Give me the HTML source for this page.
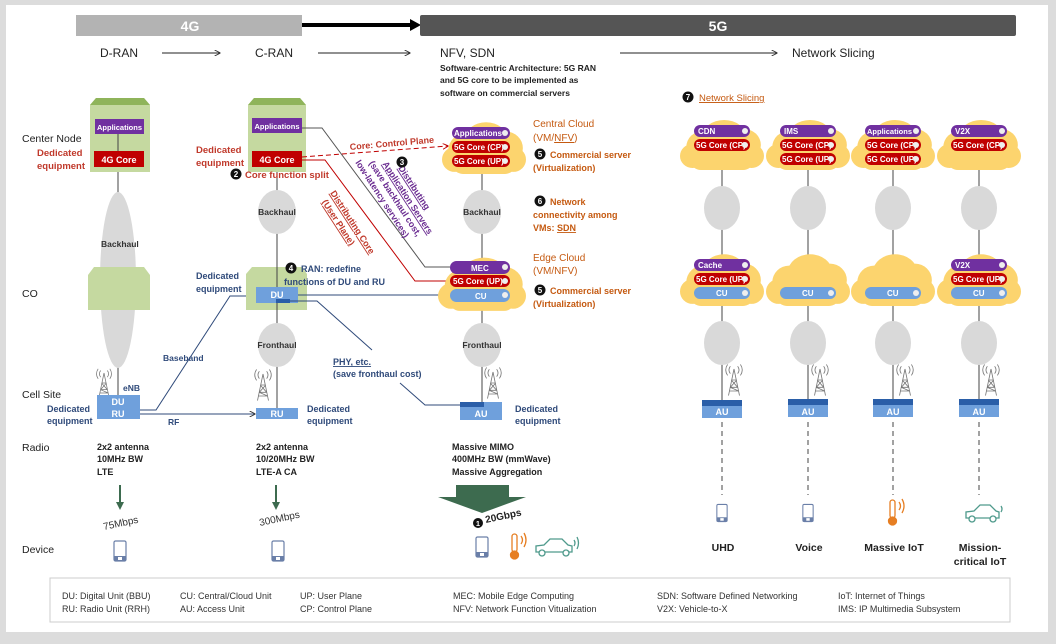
<!DOCTYPE html>
<html><head><meta charset="utf-8"><style>
html,body{margin:0;padding:0;background:#dcdcdc}
svg{display:block;font-family:"Liberation Sans",sans-serif}
</style></head><body>
<svg width="1056" height="644" viewBox="0 0 1056 644" xmlns="http://www.w3.org/2000/svg">
<defs>
<symbol id="cloud" viewBox="0 0 80 60" preserveAspectRatio="none">
<circle cx="22" cy="36" r="16" fill="#fcd46e"/><ellipse cx="42" cy="26" rx="21" ry="17" fill="#fcd46e"/><circle cx="61" cy="34" r="16" fill="#fcd46e"/>
<circle cx="12" cy="45" r="12" fill="#fcd46e"/><circle cx="68" cy="45" r="12" fill="#fcd46e"/><rect x="10" y="36" width="60" height="23" rx="10" fill="#fcd46e"/>
</symbol>
<symbol id="tower" viewBox="0 0 24 36">
<g fill="none" stroke="#777" stroke-width="0.9"><path d="M12 6 L6 35 M12 6 L18 35 M8 26 L16 26 M9 18 L15 18 M7 30 L17 30 M9 18 L16 26 M15 18 L8 26 M8 26 L17 30"/>
<path d="M8 3 Q5 7 8 11 M5 1 Q1 7 5 13 M16 3 Q19 7 16 11 M19 1 Q23 7 19 13"/></g>
</symbol>
<symbol id="phone" viewBox="0 0 14 22"><rect x="1" y="1" width="12" height="20" rx="1.5" fill="#fff" stroke="#6a7fa8" stroke-width="1.2"/><rect x="1" y="16" width="12" height="5" fill="#6a7fa8"/><rect x="5" y="17" width="4" height="3" fill="#fff"/></symbol>
<marker id="ah" viewBox="0 0 10 10" refX="9" refY="5" markerWidth="6" markerHeight="6" orient="auto"><path d="M0 0 L10 5 L0 10" fill="none" stroke="#333" stroke-width="1.5"/></marker>
<marker id="ahr" viewBox="0 0 10 10" refX="9" refY="5" markerWidth="6" markerHeight="6" orient="auto"><path d="M0 0 L10 5 L0 10" fill="none" stroke="#c00000" stroke-width="1.5"/></marker>
</defs>
<rect x="6" y="5" width="1042" height="627" fill="#fff"/>

<rect x="76" y="15" width="226" height="21" fill="#b3b3b3"/>
<text x="190" y="31" font-size="14" font-weight="bold" fill="#fff" text-anchor="middle">4G</text>
<line x1="302" y1="25" x2="412" y2="25" stroke="#000" stroke-width="4"/>
<path d="M410 19 L421 25 L410 31 Z" fill="#000"/>
<rect x="420" y="15" width="596" height="21" rx="2" fill="#555"/>
<text x="718" y="31" font-size="14" font-weight="bold" fill="#fff" text-anchor="middle">5G</text>
<g font-size="12" fill="#222">
<text x="100" y="57">D-RAN</text><text x="255" y="57">C-RAN</text><text x="440" y="57">NFV, SDN</text><text x="792" y="57">Network Slicing</text></g>
<g stroke="#222" stroke-width="1" marker-end="url(#ah)"><line x1="162" y1="53" x2="220" y2="53"/><line x1="318" y1="53" x2="410" y2="53"/><line x1="620" y1="53" x2="777" y2="53"/></g>
<g font-size="8.5" font-weight="bold" fill="#222"><text x="440" y="71">Software-centric Architecture: 5G RAN</text><text x="440" y="83">and 5G core to be implemented as</text><text x="440" y="96">software on commercial servers</text></g>

<g font-size="10.5" fill="#222"><text x="22" y="142">Center Node</text><text x="22" y="297">CO</text><text x="22" y="398">Cell Site</text><text x="22" y="451">Radio</text><text x="22" y="553">Device</text></g>

<line x1="118" y1="125" x2="118" y2="395" stroke="#444"/>
<ellipse cx="118" cy="280" rx="18" ry="88" fill="#d9d9d9"/>
<text x="101" y="247" font-size="8.5" font-weight="bold" fill="#333">Backhaul</text>
<path d="M90 105 L96 98 L144 98 L150 105 L150 172 L90 172 Z" fill="#c5d9a0"/><path d="M90 105 L96 98 L144 98 L150 105 Z" fill="#8fb45a"/>
<path d="M88 275 L94 267 L144 267 L150 275 L150 310 L88 310 Z" fill="#c5d9a0"/>
<rect x="95" y="119" width="49" height="15" fill="#7030a0"/><text x="119.5" y="130" font-size="7.5" font-weight="bold" fill="#fff" text-anchor="middle">Applications</text>
<line x1="118" y1="134" x2="118" y2="151" stroke="#444"/>
<rect x="94" y="151" width="50" height="16" fill="#c00000"/><text x="119" y="163" font-size="9" font-weight="bold" fill="#fff" text-anchor="middle">4G Core</text>
<g font-size="9.5" font-weight="bold" fill="#c0392b"><text x="37" y="156">Dedicated</text><text x="37" y="169">equipment</text></g>
<use href="#tower" x="93" y="368" width="22" height="30"/>
<rect x="97" y="395" width="43" height="24" fill="#6fa0dc"/>
<text x="118" y="405" font-size="9" font-weight="bold" fill="#fff" text-anchor="middle">DU</text><text x="118" y="417" font-size="9" font-weight="bold" fill="#fff" text-anchor="middle">RU</text>
<text x="123" y="391" font-size="8.5" font-weight="bold" fill="#2f4a7a">eNB</text>
<g font-size="9" font-weight="bold" fill="#2f4a7a"><text x="47" y="412">Dedicated</text><text x="47" y="424">equipment</text></g>
<g font-size="9" font-weight="bold" fill="#222"><text x="97" y="450">2x2 antenna</text><text x="97" y="462">10MHz BW</text><text x="97" y="475">LTE</text></g>
<line x1="120" y1="485" x2="120" y2="503" stroke="#3d6b4f" stroke-width="2"/><path d="M116 502 L120 510 L124 502 Z" fill="#3d6b4f"/>
<text x="104" y="530" font-size="10" fill="#333" transform="rotate(-12 104 530)">75Mbps</text>
<use href="#phone" x="113" y="540" width="14" height="22"/>

<g stroke="#2f4a7a" stroke-width="1" fill="none"><path d="M140 410 L156 410 L230 296 L255 296" marker-end="url(#ah)"/><path d="M140 414 L255 414" marker-end="url(#ah)"/></g>
<text x="163" y="361" font-size="8.5" font-weight="bold" fill="#2f4a7a">Baseband</text>
<text x="168" y="425" font-size="8.5" font-weight="bold" fill="#2f4a7a">RF</text>

<line x1="277" y1="125" x2="277" y2="408" stroke="#444"/>
<path d="M248 105 L254 98 L300 98 L306 105 L306 172 L248 172 Z" fill="#c5d9a0"/><path d="M248 105 L254 98 L300 98 L306 105 Z" fill="#8fb45a"/>
<rect x="252" y="118" width="50" height="15" fill="#7030a0"/><text x="277" y="129" font-size="7.5" font-weight="bold" fill="#fff" text-anchor="middle">Applications</text>
<rect x="252" y="151" width="50" height="16" fill="#c00000"/><text x="277" y="163" font-size="9" font-weight="bold" fill="#fff" text-anchor="middle">4G Core</text>
<g font-size="9.5" font-weight="bold" fill="#c0392b"><text x="196" y="153">Dedicated</text><text x="196" y="166">equipment</text></g>
<circle cx="236" cy="174" r="5.5" fill="#111"/><text x="236" y="177" font-size="8" font-weight="bold" fill="#fff" text-anchor="middle">2</text>
<text x="245" y="178" font-size="9.5" font-weight="bold" fill="#c0392b">Core function split</text>
<ellipse cx="277" cy="212" rx="19" ry="22" fill="#d9d9d9"/><text x="277" y="215" font-size="8.5" font-weight="bold" fill="#333" text-anchor="middle">Backhaul</text>
<path d="M246 274 L252 267 L302 267 L307 274 L307 310 L246 310 Z" fill="#c5d9a0"/>
<line x1="277" y1="250" x2="277" y2="330" stroke="#444"/>
<rect x="256" y="287" width="42" height="16" fill="#6fa0dc"/><rect x="276" y="299" width="14" height="4" fill="#2a5ea8"/>
<text x="277" y="298" font-size="9" font-weight="bold" fill="#fff" text-anchor="middle">DU</text>
<g font-size="9" font-weight="bold" fill="#2f4a7a"><text x="196" y="279">Dedicated</text><text x="196" y="292">equipment</text></g>
<circle cx="291" cy="268" r="5.5" fill="#111"/><text x="291" y="271" font-size="8" font-weight="bold" fill="#fff" text-anchor="middle">4</text>
<g font-size="9" font-weight="bold" fill="#2f4a7a"><text x="301" y="272">RAN: redefine</text><text x="284" y="285">functions of DU and  RU</text></g>
<ellipse cx="277" cy="345" rx="19" ry="22" fill="#d9d9d9"/><text x="277" y="348" font-size="8.5" font-weight="bold" fill="#333" text-anchor="middle">Fronthaul</text>
<use href="#tower" x="252" y="368" width="22" height="34"/>
<rect x="256" y="408" width="42" height="11" fill="#6fa0dc"/><text x="277" y="417" font-size="9" font-weight="bold" fill="#fff" text-anchor="middle">RU</text>
<g font-size="9" font-weight="bold" fill="#2f4a7a"><text x="307" y="412">Dedicated</text><text x="307" y="424">equipment</text></g>
<g font-size="9" font-weight="bold" fill="#222"><text x="256" y="450">2x2 antenna</text><text x="256" y="462">10/20MHz BW</text><text x="256" y="475">LTE-A CA</text></g>
<line x1="276" y1="485" x2="276" y2="503" stroke="#3d6b4f" stroke-width="2"/><path d="M272 502 L276 510 L280 502 Z" fill="#3d6b4f"/>
<text x="260" y="526" font-size="10" fill="#333" transform="rotate(-12 260 526)">300Mbps</text>
<use href="#phone" x="271" y="540" width="14" height="22"/>

<g fill="none" stroke-width="1">
<path d="M298 295 L450 295" stroke="#2f4a7a" marker-end="url(#ah)"/>
<path d="M290 301 L317 301 L372 350" stroke="#2f4a7a"/>
<path d="M400 383 L425 405 L460 405" stroke="#2f4a7a"/>
<path d="M302 128 L322 128 L425 267 L450 267" stroke="#555"/>
<path d="M302 160 L325 160 L415 281 L450 281" stroke="#c00000"/>
<path d="M302 157 L448 146" stroke="#c00000" stroke-dasharray="5,3" marker-end="url(#ahr)"/>
</g>
<text x="350" y="150" font-size="9" font-weight="bold" fill="#c0392b" transform="rotate(-5 350 150)">Core: Control Plane</text>
<g font-size="9" font-weight="bold" fill="#2f4a7a" text-decoration="underline"><text x="333" y="365">PHY, etc.</text></g>
<text x="333" y="377" font-size="9" font-weight="bold" fill="#2f4a7a">(save fronthaul cost)</text>
<g transform="rotate(57 330 193)" font-size="9" font-weight="bold" fill="#c0392b"><text x="330" y="193" text-decoration="underline">Distributing Core</text><text x="333" y="205" text-decoration="underline">(User Plane)</text></g>
<g transform="rotate(57 398 168)" font-size="9" font-weight="bold" fill="#6a2c91"><text x="398" y="168" text-decoration="underline">Distributing</text><text x="386" y="179" text-decoration="underline">Application Servers</text><text x="378" y="190">(save backhaul cost,</text><text x="370" y="201">low-latency services)</text></g>
<circle cx="402" cy="162" r="5.5" fill="#111"/><text x="402" y="165" font-size="8" font-weight="bold" fill="#fff" text-anchor="middle">3</text>

<line x1="482" y1="165" x2="482" y2="405" stroke="#444"/>
<use href="#cloud" x="442" y="113" width="84" height="62"/>
<use href="#cloud" x="438" y="248" width="88" height="64"/>
<g font-size="8" font-weight="bold" fill="#fff">
<rect x="452" y="127" width="58" height="12" rx="6" fill="#7030a0"/><text x="454" y="136">Applications</text><circle cx="505" cy="133" r="3" fill="#eee"/>
<rect x="452" y="141" width="58" height="12" rx="6" fill="#c00000"/><text x="454" y="150">5G Core (CP)</text><circle cx="505" cy="147" r="3" fill="#eee"/>
<rect x="452" y="155" width="58" height="12" rx="6" fill="#c00000"/><text x="454" y="164">5G Core (UP)</text><circle cx="505" cy="161" r="3" fill="#eee"/>
<rect x="450" y="261" width="60" height="13" rx="6.5" fill="#7030a0"/><text x="471" y="271">MEC</text><circle cx="505" cy="267" r="3" fill="#eee"/>
<rect x="450" y="275" width="60" height="12" rx="6" fill="#c00000"/><text x="453" y="284">5G Core (UP)</text><circle cx="505" cy="281" r="3" fill="#eee"/>
<rect x="450" y="289" width="60" height="13" rx="6.5" fill="#6fa0dc"/><text x="475" y="299">CU</text><circle cx="505" cy="295" r="3" fill="#eee"/>
</g>
<ellipse cx="482" cy="212" rx="19" ry="22" fill="#d9d9d9"/><text x="482" y="215" font-size="8.5" font-weight="bold" fill="#333" text-anchor="middle">Backhaul</text>
<ellipse cx="482" cy="345" rx="19" ry="22" fill="#d9d9d9"/><text x="482" y="348" font-size="8.5" font-weight="bold" fill="#333" text-anchor="middle">Fronthaul</text>
<use href="#tower" x="482" y="365" width="22" height="36"/>
<rect x="460" y="402" width="42" height="18" fill="#6fa0dc"/><rect x="460" y="402" width="24" height="5" fill="#2a5ea8"/>
<text x="481" y="417" font-size="9" font-weight="bold" fill="#fff" text-anchor="middle">AU</text>
<g font-size="9" font-weight="bold" fill="#2f4a7a"><text x="515" y="412">Dedicated</text><text x="515" y="424">equipment</text></g>
<g font-size="10" fill="#c55a11"><text x="533" y="127">Central Cloud</text><text x="533" y="141">(VM/<tspan text-decoration="underline">NFV</tspan>)</text></g>
<g font-size="9" font-weight="bold" fill="#c55a11">
<circle cx="540" cy="154" r="5.5" fill="#111"/><text x="550" y="158">Commercial server</text><text x="533" y="171">(Virtualization)</text>
<circle cx="540" cy="201" r="5.5" fill="#111"/><text x="550" y="205">Network</text><text x="533" y="218">connectivity among</text><text x="533" y="231">VMs: <tspan text-decoration="underline">SDN</tspan></text>
<circle cx="540" cy="290" r="5.5" fill="#111"/><text x="550" y="294">Commercial server</text><text x="533" y="307">(Virtualization)</text></g>
<g font-size="10" fill="#c55a11"><text x="533" y="261">Edge Cloud</text><text x="533" y="274">(VM/NFV)</text></g>
<g font-size="8" font-weight="bold" fill="#fff" text-anchor="middle"><text x="540" y="157">5</text><text x="540" y="204">6</text><text x="540" y="293">5</text></g>
<g font-size="9" font-weight="bold" fill="#222"><text x="452" y="450">Massive MIMO</text><text x="452" y="462">400MHz BW (mmWave)</text><text x="452" y="475">Massive Aggregation</text></g>
<path d="M456 485 L509 485 L509 497 L526 497 L482 513 L438 497 L456 497 Z" fill="#3d6b4f"/>
<circle cx="478" cy="523" r="5" fill="#111"/><text x="478" y="526" font-size="7.5" font-weight="bold" fill="#fff" text-anchor="middle">1</text>
<text x="486" y="523" font-size="10" font-weight="bold" fill="#222" transform="rotate(-12 486 523)">20Gbps</text>
<use href="#phone" x="475" y="536" width="14" height="22"/>
<g fill="none" stroke="#e67e22" stroke-width="1.3"><rect x="512" y="534" width="5" height="18" rx="2.5"/><circle cx="514.5" cy="555" r="4" fill="#e67e22"/><path d="M521 536 Q524 540 521 544 M524 533 Q528 540 524 547"/></g>
<g fill="none" stroke="#4f9a8c" stroke-width="1.3"><path d="M536 552 L536 546 L544 545 L550 539 L562 539 L568 545 L572 546 L572 552 Z"/><circle cx="542" cy="553" r="3" fill="#fff"/><circle cx="566" cy="553" r="3" fill="#fff"/><path d="M574 540 Q576 543 574 546 M577 537 Q580 543 577 549"/></g>

<circle cx="688" cy="97" r="5.5" fill="#111"/><text x="688" y="100" font-size="8" font-weight="bold" fill="#fff" text-anchor="middle">7</text>
<text x="699" y="101" font-size="9.5" fill="#c55a11" text-decoration="underline">Network Slicing</text>
<g stroke="#444"><line x1="722" y1="165" x2="722" y2="400"/><line x1="808" y1="165" x2="808" y2="400"/><line x1="893" y1="165" x2="893" y2="400"/><line x1="979" y1="165" x2="979" y2="400"/></g>
<g stroke="#444" stroke-dasharray="5,4"><line x1="722" y1="422" x2="722" y2="495"/><line x1="808" y1="422" x2="808" y2="495"/><line x1="893" y1="422" x2="893" y2="495"/><line x1="979" y1="422" x2="979" y2="495"/></g>
<use href="#cloud" x="680" y="111" width="84" height="60"/><use href="#cloud" x="766" y="111" width="84" height="60"/><use href="#cloud" x="851" y="111" width="84" height="60"/><use href="#cloud" x="937" y="111" width="84" height="60"/>
<use href="#cloud" x="680" y="245" width="84" height="62"/><use href="#cloud" x="766" y="245" width="84" height="62"/><use href="#cloud" x="851" y="245" width="84" height="62"/><use href="#cloud" x="937" y="245" width="84" height="62"/>
<g fill="#d9d9d9"><ellipse cx="722" cy="208" rx="18" ry="22"/><ellipse cx="808" cy="208" rx="18" ry="22"/><ellipse cx="893" cy="208" rx="18" ry="22"/><ellipse cx="979" cy="208" rx="18" ry="22"/>
<ellipse cx="722" cy="343" rx="18" ry="22"/><ellipse cx="808" cy="343" rx="18" ry="22"/><ellipse cx="893" cy="343" rx="18" ry="22"/><ellipse cx="979" cy="343" rx="18" ry="22"/></g>
<g font-size="8" font-weight="bold" fill="#fff">
<rect x="694" y="125" width="56" height="12" rx="6" fill="#7030a0"/><text x="698" y="134">CDN</text>
<rect x="694" y="139" width="56" height="12" rx="6" fill="#c00000"/><text x="696" y="148">5G Core (CP)</text>
<rect x="780" y="125" width="56" height="12" rx="6" fill="#7030a0"/><text x="784" y="134">IMS</text>
<rect x="780" y="139" width="56" height="12" rx="6" fill="#c00000"/><text x="782" y="148">5G Core (CP)</text>
<rect x="780" y="153" width="56" height="12" rx="6" fill="#c00000"/><text x="782" y="162">5G Core (UP)</text>
<rect x="865" y="125" width="56" height="12" rx="6" fill="#7030a0"/><text x="867" y="134" font-size="7.5">Applications</text>
<rect x="865" y="139" width="56" height="12" rx="6" fill="#c00000"/><text x="867" y="148">5G Core (CP)</text>
<rect x="865" y="153" width="56" height="12" rx="6" fill="#c00000"/><text x="867" y="162">5G Core (UP)</text>
<rect x="951" y="125" width="56" height="12" rx="6" fill="#7030a0"/><text x="955" y="134">V2X</text>
<rect x="951" y="139" width="56" height="12" rx="6" fill="#c00000"/><text x="953" y="148">5G Core (CP)</text>
<rect x="694" y="259" width="56" height="12" rx="6" fill="#7030a0"/><text x="698" y="268">Cache</text>
<rect x="694" y="273" width="56" height="12" rx="6" fill="#c00000"/><text x="696" y="282">5G Core (UP)</text>
<rect x="694" y="287" width="56" height="12" rx="6" fill="#6fa0dc"/><text x="716" y="296">CU</text>
<rect x="780" y="287" width="56" height="12" rx="6" fill="#6fa0dc"/><text x="802" y="296">CU</text>
<rect x="865" y="287" width="56" height="12" rx="6" fill="#6fa0dc"/><text x="887" y="296">CU</text>
<rect x="951" y="259" width="56" height="12" rx="6" fill="#7030a0"/><text x="955" y="268">V2X</text>
<rect x="951" y="273" width="56" height="12" rx="6" fill="#c00000"/><text x="953" y="282">5G Core (UP)</text>
<rect x="951" y="287" width="56" height="12" rx="6" fill="#6fa0dc"/><text x="973" y="296">CU</text>
</g>
<g fill="#eee"><circle cx="745" cy="131" r="3"/><circle cx="745" cy="145" r="3"/><circle cx="831" cy="131" r="3"/><circle cx="831" cy="145" r="3"/><circle cx="831" cy="159" r="3"/><circle cx="916" cy="131" r="3"/><circle cx="916" cy="145" r="3"/><circle cx="916" cy="159" r="3"/><circle cx="1002" cy="131" r="3"/><circle cx="1002" cy="145" r="3"/>
<circle cx="745" cy="265" r="3"/><circle cx="745" cy="279" r="3"/><circle cx="745" cy="293" r="3"/><circle cx="831" cy="293" r="3"/><circle cx="916" cy="293" r="3"/><circle cx="1002" cy="265" r="3"/><circle cx="1002" cy="279" r="3"/><circle cx="1002" cy="293" r="3"/></g>
<use href="#tower" x="723" y="362" width="22" height="36"/><use href="#tower" x="809" y="362" width="22" height="36"/><use href="#tower" x="894" y="362" width="22" height="36"/><use href="#tower" x="980" y="362" width="22" height="36"/>
<g><rect x="702" y="400" width="40" height="18" fill="#6fa0dc"/><rect x="702" y="400" width="40" height="6" fill="#2a5ea8"/>
<rect x="788" y="399" width="40" height="18" fill="#6fa0dc"/><rect x="788" y="399" width="40" height="6" fill="#2a5ea8"/>
<rect x="873" y="399" width="40" height="18" fill="#6fa0dc"/><rect x="873" y="399" width="40" height="6" fill="#2a5ea8"/>
<rect x="959" y="399" width="40" height="18" fill="#6fa0dc"/><rect x="959" y="399" width="40" height="6" fill="#2a5ea8"/></g>
<g font-size="9" font-weight="bold" fill="#fff" text-anchor="middle"><text x="722" y="415">AU</text><text x="808" y="415">AU</text><text x="893" y="415">AU</text><text x="979" y="415">AU</text></g>
<use href="#phone" x="716" y="503" width="12" height="20"/><use href="#phone" x="802" y="503" width="12" height="20"/>
<g fill="none" stroke="#e67e22" stroke-width="1.3"><rect x="890" y="500" width="5" height="18" rx="2.5"/><circle cx="892.5" cy="521" r="4" fill="#e67e22"/><path d="M899 502 Q902 506 899 510 M902 499 Q906 506 902 513"/></g>
<g fill="none" stroke="#4f9a8c" stroke-width="1.3"><path d="M966 518 L966 512 L974 511 L980 505 L990 505 L996 511 L999 512 L999 518 Z"/><circle cx="972" cy="519" r="3" fill="#fff"/><circle cx="993" cy="519" r="3" fill="#fff"/><path d="M1001 506 Q1003 509 1001 512"/></g>
<g font-size="10.5" font-weight="bold" fill="#222" text-anchor="middle"><text x="723" y="551">UHD</text><text x="809" y="551">Voice</text><text x="894" y="551">Massive IoT</text><text x="980" y="551">Mission-</text><text x="980" y="565">critical IoT</text></g>

<rect x="50" y="578" width="960" height="44" fill="#fff" stroke="#ccc"/>
<g font-size="9" fill="#333">
<text x="62" y="599">DU: Digital Unit (BBU)</text><text x="62" y="612">RU: Radio Unit (RRH)</text>
<text x="180" y="599">CU: Central/Cloud Unit</text><text x="180" y="612">AU: Access Unit</text>
<text x="300" y="599">UP: User Plane</text><text x="300" y="612">CP: Control Plane</text>
<text x="453" y="599">MEC: Mobile Edge Computing</text><text x="453" y="612">NFV: Network Function Vitualization</text>
<text x="657" y="599">SDN: Software Defined Networking</text><text x="657" y="612">V2X: Vehicle-to-X</text>
<text x="838" y="599">IoT: Internet of Things</text><text x="838" y="612">IMS: IP Multimedia Subsystem</text>
</g>
</svg>
</body></html>
